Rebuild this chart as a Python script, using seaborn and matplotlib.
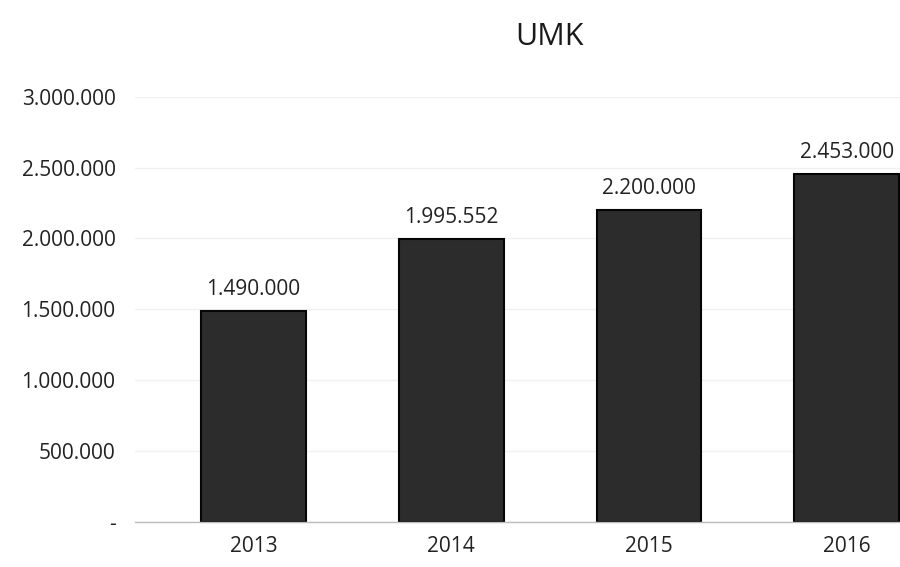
import pandas as pd
import matplotlib
matplotlib.use("Agg")
import matplotlib.pyplot as plt
from matplotlib.ticker import FuncFormatter
import seaborn as sns

# data
tahun = ["2013", "2014", "2015", "2016"]
umk = [1490000, 1995552, 2200000, 2453000]
y_ticks = [0, 500000, 1000000, 1500000, 2000000, 2500000, 3000000]

df = pd.DataFrame({"tahun": tahun, "umk": umk})

sns.set_theme(style="white")
plt.rcParams["font.family"] = ["Open Sans", "DejaVu Sans"]


def fmt_titik(v, pos=None):
    # accounting style: dots as thousand separators, zero shown as "-"
    if v == 0:
        return "-"
    return f"{int(round(v)):,}".replace(",", ".")


fig = plt.figure(figsize=(9, 5.67), dpi=100)
ax = fig.add_axes([0.15, 0.0794, 0.85, 0.7502])

sns.barplot(data=df, x="tahun", y="umk", color="#2c2c2c", width=0.53,
            edgecolor="#050505", linewidth=1.5, saturation=1, ax=ax)

ax.bar_label(ax.containers[0], labels=[fmt_titik(v) for v in umk],
             padding=8, fontsize=15, color="#222222")

ax.set_ylim(0, 3000000)
ax.set_xlim(-0.6, 3.27)
ax.set_yticks(y_ticks)
ax.yaxis.set_major_formatter(FuncFormatter(fmt_titik))
ax.yaxis.grid(True, color="#f0f0f0", linewidth=1)
ax.set_axisbelow(True)

ax.tick_params(axis="y", labelsize=15, labelcolor="#222222", length=0, pad=14)
ax.tick_params(axis="x", labelsize=15, labelcolor="#222222", length=0, pad=10)
ax.set_xlabel("")
ax.set_ylabel("")

for s in ["top", "right", "left"]:
    ax.spines[s].set_visible(False)
ax.spines["bottom"].set_color("#bbbbbb")
ax.spines["bottom"].set_linewidth(1)

fig.text(0.61, 0.935, "UMK", ha="center", va="center", fontsize=22, color="#1a1a1a")

fig.savefig("out.png", dpi=100)
